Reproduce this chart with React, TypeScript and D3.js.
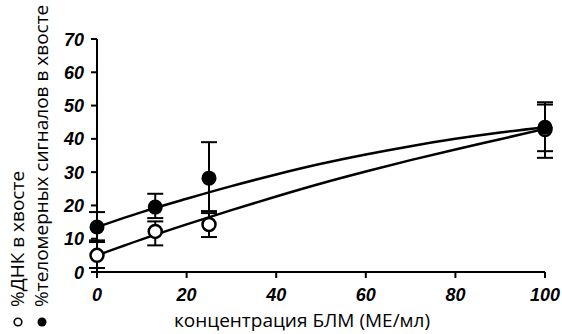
import React from "react";
import * as d3 from "d3";

const W = 562;
const H = 334;

// measured points: x = BLM concentration
const xs = [0, 13, 25, 100];
// filled circles: % telomeric signals in tail
const telMean = [13.5, 19.5, 28.2, 43.5];
const telLow = [9, 16.2, 18.3, 36.3];
const telHigh = [18, 23.5, 39, 51];
// open circles: % DNA in tail
const dnaMean = [5, 12.2, 14.3, 42.8];
const dnaLow = [1.2, 8, 10.5, 34.3];
const dnaHigh = [9.5, 15.2, 17.7, 50.3];

// fitted curves
const curveX = [0, 10, 20, 30, 40, 50, 60, 70, 80, 90, 100];
const telCurve = [13.5, 18, 22, 25.8, 29.3, 32.5, 35.3, 37.8, 40, 41.9, 43.5];
const dnaCurve = [5, 9.8, 14.3, 18.6, 22.7, 26.6, 30.2, 33.6, 36.8, 39.9, 43];

const xTicks = [0, 20, 40, 60, 80, 100];
const yTicks = [0, 10, 20, 30, 40, 50, 60, 70];

export default function App() {
  const x = d3.scaleLinear().domain([0, 100]).range([97, 545]);
  const y = d3.scaleLinear().domain([0, 70]).range([272, 39]);
  const line = d3
    .line<number>()
    .x((_, i) => x(curveX[i]))
    .curve(d3.curveMonotoneX);
  const telPath = line.y((v) => y(v))(telCurve) || "";
  const dnaPath = line.y((v) => y(v))(dnaCurve) || "";
  const tickFont = "'Liberation Sans', Arial, sans-serif";
  const labelFont = "'Open Sans', 'DejaVu Sans', sans-serif";
  const cap = 8;

  const errBars = (means: number[], lows: number[], highs: number[], key: string) =>
    xs.map((xv, i) => (
      <g key={key + i} stroke="#000" strokeWidth={2}>
        <line x1={x(xv)} x2={x(xv)} y1={y(lows[i])} y2={y(highs[i])} />
        <line x1={x(xv) - cap} x2={x(xv) + cap} y1={y(lows[i])} y2={y(lows[i])} />
        <line x1={x(xv) - cap} x2={x(xv) + cap} y1={y(highs[i])} y2={y(highs[i])} />
      </g>
    ));

  return (
    <svg
      width={W}
      height={H}
      style={{ position: "absolute", left: 0, top: 0, background: "#fff" }}
    >
      {/* axes */}
      <g stroke="#000" strokeWidth={2} fill="none">
        <line x1={x(0)} x2={x(0)} y1={y(70)} y2={y(0)} />
        <line x1={x(0)} x2={x(100)} y1={y(0)} y2={y(0)} />
        {yTicks.map((t) => (
          <line key={"yt" + t} x1={x(0) - 6} x2={x(0)} y1={y(t)} y2={y(t)} />
        ))}
        {xTicks.map((t) => (
          <line key={"xt" + t} x1={x(t)} x2={x(t)} y1={y(0)} y2={y(0) + 6} />
        ))}
      </g>
      {yTicks.map((t) => (
        <text
          key={"yl" + t}
          x={84}
          y={y(t) + 6.5}
          textAnchor="end"
          fontFamily={tickFont}
          fontWeight="bold"
          fontStyle="italic"
          fontSize={18}
        >
          {t}
        </text>
      ))}
      {xTicks.map((t) => (
        <text
          key={"xl" + t}
          x={x(t)}
          y={301}
          textAnchor="middle"
          fontFamily={tickFont}
          fontWeight="bold"
          fontStyle="italic"
          fontSize={18}
        >
          {t}
        </text>
      ))}
      <text
        x={302}
        y={327}
        textAnchor="middle"
        fontFamily={labelFont}
        fontSize={19}
      >
        концентрация БЛМ (МЕ/мл)
      </text>
      <text
        transform="translate(24,307) rotate(-90)"
        fontFamily={labelFont}
        fontSize={19}
      >
        %ДНК в хвосте
      </text>
      <text
        transform="translate(48,307) rotate(-90)"
        fontFamily={labelFont}
        fontSize={19}
      >
        %теломерных сигналов в хвосте
      </text>
      <circle cx={18} cy={322} r={3.8} fill="#fff" stroke="#000" strokeWidth={1.6} />
      <circle cx={42} cy={322} r={4.5} fill="#000" />

      {/* curves */}
      <path d={telPath} fill="none" stroke="#000" strokeWidth={2.5} />
      <path d={dnaPath} fill="none" stroke="#000" strokeWidth={2.5} />

      {errBars(telMean, telLow, telHigh, "te")}
      {errBars(dnaMean, dnaLow, dnaHigh, "de")}

      {xs.map((xv, i) => (
        <circle key={"dp" + i} cx={x(xv)} cy={y(dnaMean[i])} r={6.5} fill="#fff" stroke="#000" strokeWidth={2.5} />
      ))}
      {xs.map((xv, i) => (
        <circle key={"tp" + i} cx={x(xv)} cy={y(telMean[i])} r={7.5} fill="#000" />
      ))}
    </svg>
  );
}
